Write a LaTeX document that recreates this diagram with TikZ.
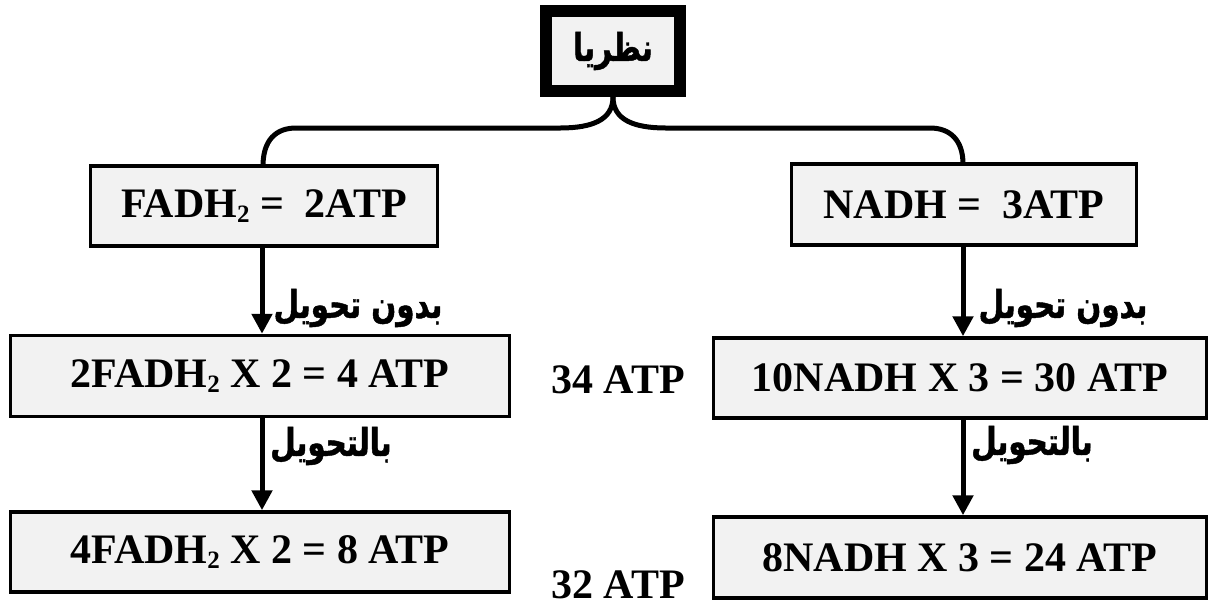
\documentclass[tikz,border=0pt]{standalone}
\usepackage{fontspec}
\setmainfont{Liberation Serif}
\newfontfamily\arabicfont[Script=Arabic, FakeStretch=0.77, BoldFeatures={FakeBold=1.2}]{DejaVu Sans}
\TeXXeTstate=1
\usetikzlibrary{arrows.meta}
\definecolor{boxgray}{HTML}{F2F2F2}
\newcommand{\sub}[1]{\raisebox{-0.12em}{\fontsize{25}{25}\selectfont #1}}

\begin{document}
\begin{tikzpicture}[x=1pt,y=-1pt,
  box/.style={draw=black, line width=3.5pt, fill=boxgray, inner sep=0pt,
    font=\fontsize{42}{42}\selectfont\bfseries},
  topbox/.style={draw=black, line width=12pt, fill=boxgray, inner sep=0pt,
    minimum width=134pt, minimum height=80pt,
    font=\arabicfont\bfseries\fontsize{38}{38}\selectfont},
  total/.style={inner sep=0pt, font=\fontsize{42}{42}\selectfont\bfseries},
  arlabel/.style={inner sep=0pt, font=\arabicfont\bfseries\fontsize{38}{38}\selectfont},
  branch/.style={line width=5pt},
  flow/.style={line width=5pt, -{Triangle[width=20pt,length=20pt]}}]

\useasboundingbox (0,0) rectangle (1210,606);

% root
\node[topbox] (root) at (613,51) {\beginR نظريا\endR};

% first level
\node[box, minimum width=347pt, minimum height=80pt] (fadh) at (264,206) {FADH\sub{2} =\ \ 2ATP};
\node[box, minimum width=345pt, minimum height=81pt] (nadh) at (964,204.5) {NADH =\ \ 3ATP};

% second level
\node[box, minimum width=499pt, minimum height=81pt] (fadhA) at (260,376) {2FADH\sub{2} X 2 = 4 ATP};
\node[box, minimum width=493pt, minimum height=80pt] (nadhA) at (960,378) {10NADH X 3 = 30 ATP};

% third level
\node[box, minimum width=499pt, minimum height=80pt] (fadhB) at (260,552) {4FADH\sub{2} X 2 = 8 ATP};
\node[box, minimum width=493pt, minimum height=81pt] (nadhB) at (960,557.5) {8NADH X 3 = 24 ATP};

% totals
\node[total] (sumA) at (618,380) {34 ATP};
\node[total] (sumB) at (618,585) {32 ATP};

% branching connector
\coordinate (lbend) at (296,128);
\coordinate (rbend) at (930,128);
\draw[branch] (root.south) .. controls (613,120) and (592,128) .. (560,128)
  -- (lbend) .. controls (276,128) and (263,140) .. (263,166);
\draw[branch] (root.south) .. controls (613,120) and (634,128) .. (666,128)
  -- (rbend) .. controls (950,128) and (963,140) .. (963,164);

% arrows
\draw[flow] (262,0 |- fadh.south) -- (262,0 |- fadhA.north);
\draw[flow] (262,0 |- fadhA.south) -- (262,0 |- fadhB.north);
\draw[flow] (963,0 |- nadh.south) -- (963,0 |- nadhA.north);
\draw[flow] (963,0 |- nadhA.south) -- (963,0 |- nadhB.north);

% arrow labels
\node[arlabel] (l1) at (358,308) {\beginR بدون تحويل\endR};
\node[arlabel] (r1) at (1063,308) {\beginR بدون تحويل\endR};
\node[arlabel] (l2) at (331,446) {\beginR بالتحويل\endR};
\node[arlabel] (r2) at (1032,445) {\beginR بالتحويل\endR};
\end{tikzpicture}
\end{document}
